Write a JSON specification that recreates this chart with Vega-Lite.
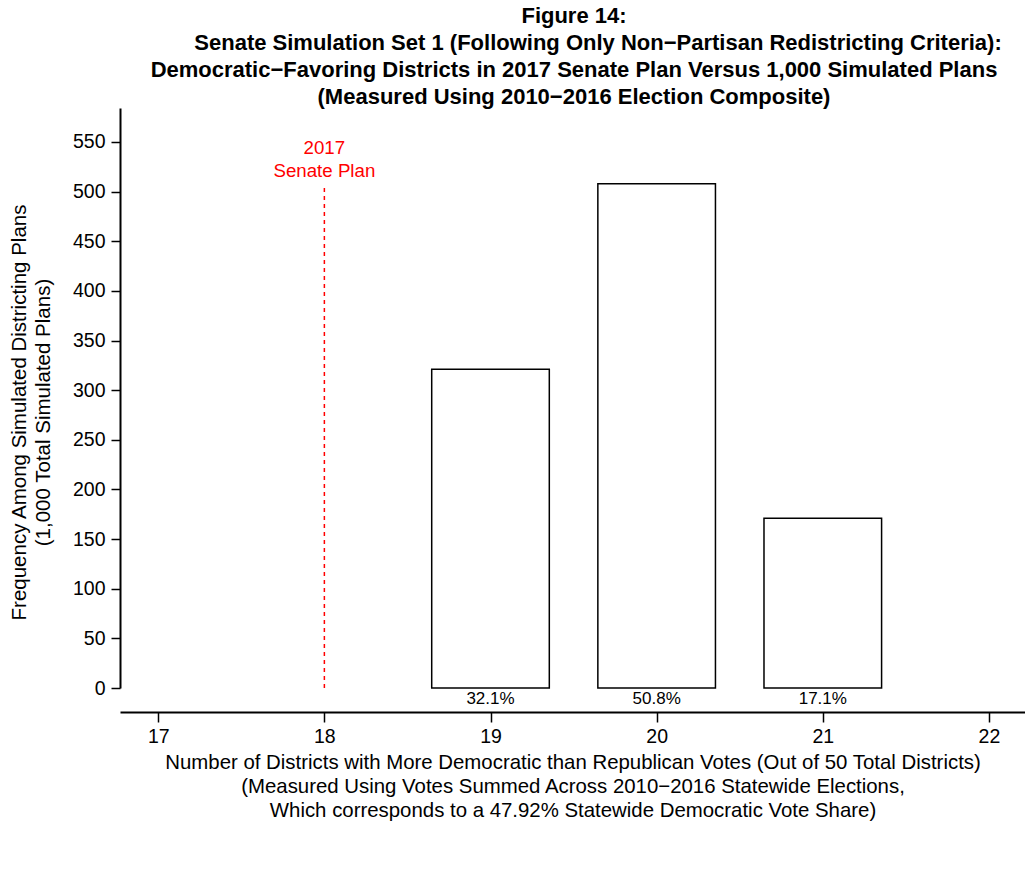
{
  "$schema": "https://vega.github.io/schema/vega-lite/v6.json",
  "width": 905,
  "height": 580,
  "autosize": {"type": "none"},
  "padding": {"left": 120, "top": 108, "right": 0, "bottom": 197},
  "background": "white",
  "config": {"view": {"stroke": null}, "font": "Liberation Sans"},
  "title": {
    "text": [
      "Figure 14:",
      "\u2800\u2800\u2800Senate Simulation Set 1 (Following Only Non\u2212Partisan Redistricting Criteria):",
      "Democratic\u2212Favoring Districts in 2017 Senate Plan Versus 1,000 Simulated Plans",
      "(Measured Using 2010\u22122016 Election Composite)"
    ],
    "anchor": "middle",
    "frame": "group",
    "dx": 1.5,
    "offset": -1,
    "fontSize": 22,
    "fontWeight": "bold",
    "font": "Liberation Sans",
    "lineHeight": 27,
    "color": "black"
  },
  "datasets": {
    "sims": [
      {"districts": 19, "plans": 321, "label": "32.1%"},
      {"districts": 20, "plans": 508, "label": "50.8%"},
      {"districts": 21, "plans": 171, "label": "17.1%"}
    ],
    "plan": [
      {"districts": 18, "label": "2017\nSenate Plan"}
    ]
  },
  "layer": [
    {
      "data": {"name": "sims"},
      "mark": {"type": "bar", "orient": "vertical", "width": 117.6, "fill": "white", "stroke": "black", "strokeWidth": 1.5},
      "encoding": {
        "x": {
          "field": "districts",
          "type": "quantitative",
          "scale": {"domain": [16.8, 22.187], "nice": false, "zero": false},
          "axis": {
            "values": [17, 18, 19, 20, 21, 22],
            "format": "d",
            "offset": 24,
            "grid": false,
            "domainColor": "black",
            "domainWidth": 2,
            "tickColor": "black",
            "tickWidth": 1.5,
            "tickSize": 10,
            "labelFont": "Liberation Sans",
            "labelFontSize": 19.5,
            "labelColor": "black",
            "labelPadding": 5,
            "labelFlush": false,
            "title": [
              "Number of Districts with More Democratic than Republican Votes (Out of 50 Total Districts)",
              "(Measured Using Votes Summed Across 2010\u22122016 Statewide Elections,",
              "Which corresponds to a 47.92% Statewide Democratic Vote Share)"
            ],
            "titleFont": "Liberation Sans",
            "titleFontSize": 20.4,
            "titleFontWeight": "normal",
            "titleColor": "black",
            "titleLineHeight": 24,
            "titleBaseline": "alphabetic",
            "titleY": 56
          }
        },
        "y": {
          "field": "plans",
          "type": "quantitative",
          "scale": {"domain": [0, 584.2], "nice": false},
          "axis": {
            "values": [0, 50, 100, 150, 200, 250, 300, 350, 400, 450, 500, 550],
            "grid": false,
            "domainColor": "black",
            "domainWidth": 2,
            "tickColor": "black",
            "tickWidth": 1.5,
            "tickSize": 9,
            "labelFont": "Liberation Sans",
            "labelFontSize": 19.5,
            "labelColor": "black",
            "labelPadding": 6,
            "labelFlush": false,
            "title": [
              "Frequency Among Simulated Districting Plans",
              "(1,000 Total Simulated Plans)"
            ],
            "titleFont": "Liberation Sans",
            "titleFontSize": 20.5,
            "titleFontWeight": "normal",
            "titleColor": "black",
            "titleLineHeight": 24,
            "titleAngle": -90,
            "titleBaseline": "alphabetic",
            "titleAlign": "center",
            "titleX": -95,
            "titleY": 304
          }
        }
      }
    },
    {
      "data": {"name": "sims"},
      "mark": {"type": "text", "baseline": "top", "dy": 3, "fontSize": 17, "font": "Liberation Sans", "color": "black"},
      "encoding": {
        "x": {"field": "districts", "type": "quantitative"},
        "y": {"datum": 0, "type": "quantitative"},
        "text": {"field": "label"}
      }
    },
    {
      "data": {"name": "plan"},
      "mark": {"type": "rule", "color": "red", "strokeDash": [4, 4], "strokeWidth": 1.5},
      "encoding": {
        "x": {"field": "districts", "type": "quantitative"},
        "y": {"datum": 0, "type": "quantitative"},
        "y2": {"datum": 505}
      }
    },
    {
      "data": {"name": "plan"},
      "mark": {"type": "text", "color": "red", "fontSize": 18.7, "font": "Liberation Sans", "lineHeight": 23, "lineBreak": "\n", "baseline": "bottom"},
      "encoding": {
        "x": {"field": "districts", "type": "quantitative"},
        "y": {"datum": 534, "type": "quantitative"},
        "text": {"field": "label"}
      }
    }
  ]
}
